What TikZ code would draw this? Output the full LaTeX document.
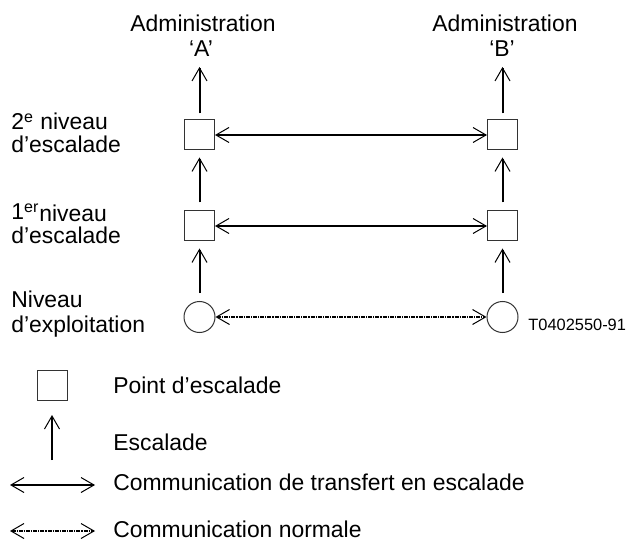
\documentclass[tikz,border=0pt]{standalone}
\usepackage{fontspec}
\setmainfont{Liberation Sans}
\usetikzlibrary{arrows.meta}
\begin{document}
\begin{tikzpicture}[x=0.5pt,y=-0.5pt,
  lbl/.style={anchor=base west,inner sep=0pt,font=\fontsize{11.45pt}{11.5pt}\selectfont},
  ctr/.style={anchor=base,inner sep=0pt,font=\fontsize{11.45pt}{11.5pt}\selectfont},
  ptbox/.style={draw=black!80,line width=0.5pt,minimum size=15pt,inner sep=0pt,rectangle},
  exbox/.style={draw=black!80,line width=0.5pt,minimum width=15pt,minimum height=15.5pt,inner sep=0pt,ellipse},
  barb/.tip={Straight Barb[length=6.5pt,width=7.5pt,line width=0.5pt]},
  esc/.style={line width=1pt,-{barb},shorten <=4pt,shorten >=3.5pt},
  comm/.style={line width=1pt,{barb}-{barb}},
  norm/.style={line width=0.65pt,dash pattern=on 2pt off 0.5pt on 0.6pt off 0.5pt,{barb}-{barb}},
]
\useasboundingbox (0,0) rectangle (630,539);

% administrations
\node[ctr] (admA1) at (203,32) {Administration};
\node[ctr] (admA2) at (201,57) {‘A’};
\node[ctr] (admB1) at (505,32) {Administration};
\node[ctr] (admB2) at (502,57) {‘B’};
\coordinate (topA) at (199.5,67);
\coordinate (topB) at (502.5,67);

% level labels
\node[lbl] (l2a) at (11,130) {2\textsuperscript{e} niveau};
\node[lbl] (l2b) at (11,153) {d’escalade};
\node[lbl] (l1a) at (11,220) {1\textsuperscript{er}\raisebox{-0.75pt}{niveau}};
\node[lbl] (l1b) at (11,243) {d’escalade};
\node[lbl] (l0a) at (11,307) {Niveau};
\node[lbl] (l0b) at (11,332) {d’exploitation};

% points
\node[ptbox] (s2A) at (199.5,135) {};
\node[ptbox] (s2B) at (502.5,135) {};
\node[ptbox] (s1A) at (199.5,226) {};
\node[ptbox] (s1B) at (502.5,226) {};
\node[draw=black!80,line width=0.5pt,inner sep=0pt,circle,minimum size=15.5pt] (cA) at (199.5,317) {};
\node[draw=black!80,line width=0.5pt,inner sep=0pt,circle,minimum size=15.5pt] (cB) at (502.5,317) {};

\node[anchor=base west,inner sep=0pt,font=\fontsize{8.2pt}{9pt}\selectfont] (ref) at (528,330) {T0402550-91};

% escalation arrows
\draw[esc,shorten >=0pt,shorten <=3pt] (s2A.north) -- (topA);
\draw[esc,shorten >=0pt,shorten <=3pt] (s2B.north) -- (topB);
\draw[esc] (s1A.north) -- (s2A.south);
\draw[esc] (s1B.north) -- (s2B.south);
\draw[esc] (cA.north) -- (s1A.south);
\draw[esc] (cB.north) -- (s1B.south);

% communications
\draw[comm] (s2A.east) -- (s2B.west);
\draw[comm] (s1A.east) -- (s1B.west);
\draw[norm] (cA.east) -- (cB.west);

% legend
\node[ptbox] (lsq) at (52,385) {};
\node[lbl] (lt1) at (113,393) {Point d’escalade};
\coordinate (le0) at (52,460);
\coordinate (le1) at (52,415);
\draw[line width=1pt,-{barb}] (le0) -- (le1);
\node[lbl] (lt2) at (113,450) {Escalade};
\coordinate (lc0) at (10,485);
\coordinate (lc1) at (95,485);
\draw[comm] (lc0) -- (lc1);
\node[lbl] (lt3) at (113,490) {Communication de transfert en escalade};
\coordinate (ln0) at (10,531);
\coordinate (ln1) at (95,531);
\draw[norm] (ln0) -- (ln1);
\node[lbl] (lt4) at (113,537) {Communication normale};
\end{tikzpicture}
\end{document}
